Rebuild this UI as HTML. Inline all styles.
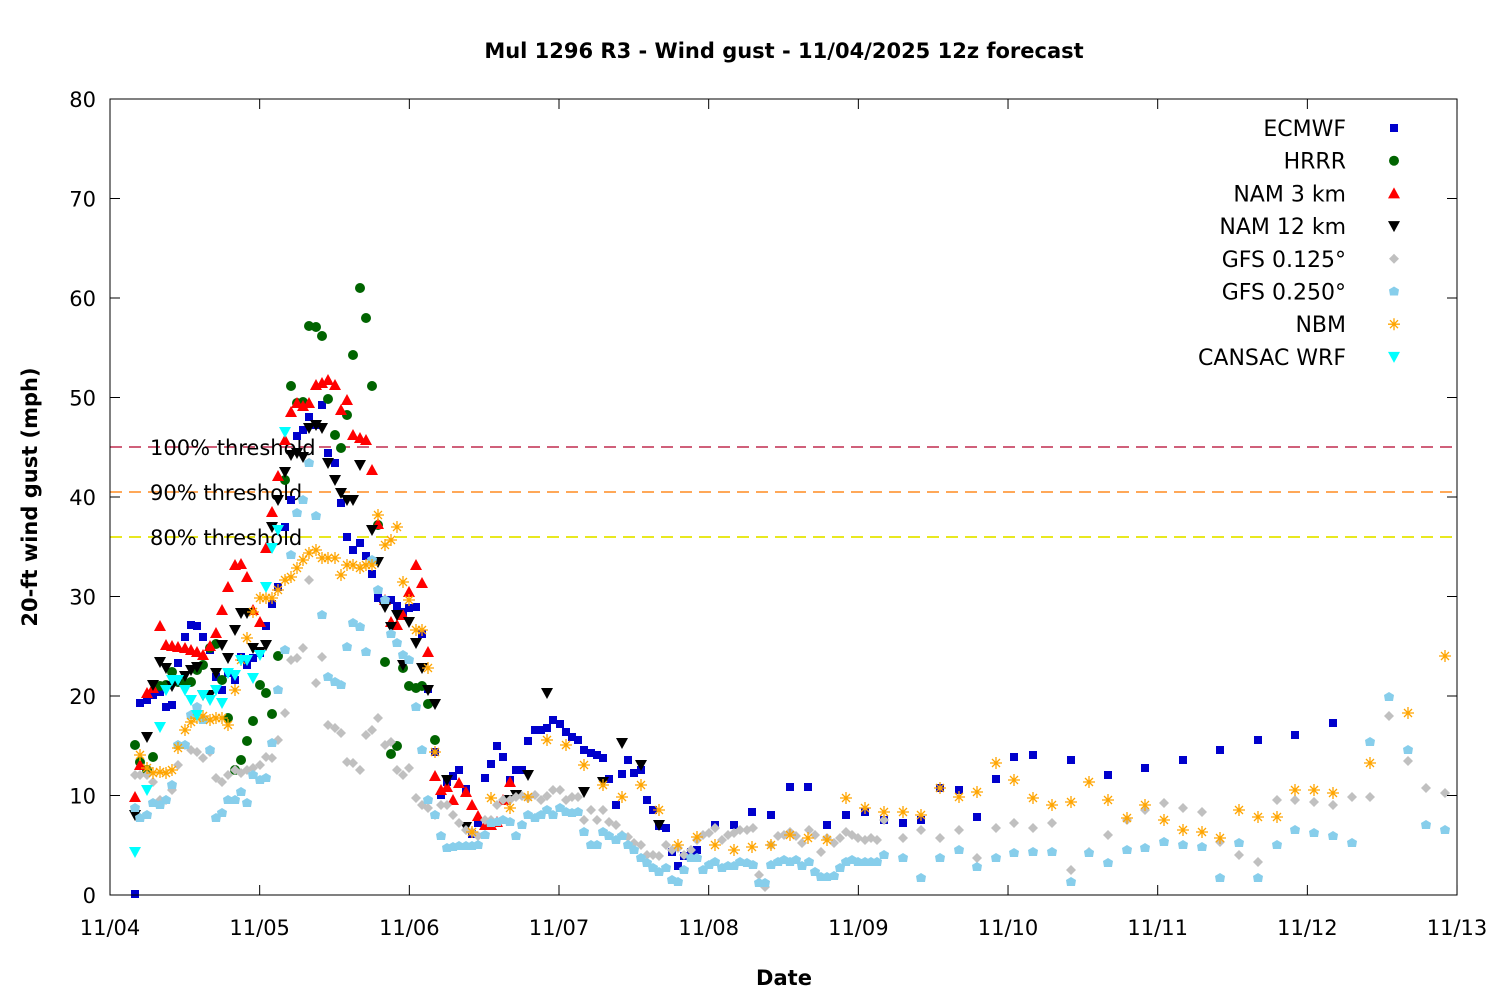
<!DOCTYPE html>
<html><head><meta charset="utf-8"><style>
body{margin:0;background:#fff;}
svg text{font-family:"DejaVu Sans","Liberation Sans",sans-serif;}
</style></head><body>
<svg id="s" width="1500" height="1000" xmlns="http://www.w3.org/2000/svg">
<rect width="1500" height="1000" fill="#fff"/>
<g id="grid"></g>
<line x1="110" y1="447" x2="1457" y2="447" stroke="#d0607a" stroke-width="2" stroke-dasharray="12,7"/>
<line x1="110" y1="492" x2="1457" y2="492" stroke="#ffa858" stroke-width="2" stroke-dasharray="12,7"/>
<line x1="110" y1="537" x2="1457" y2="537" stroke="#e8e820" stroke-width="2" stroke-dasharray="12,7"/>
<g font-size="21" fill="#000">
<text x="150" y="455">100% threshold</text>
<text x="150" y="500">90% threshold</text>
<text x="150" y="545">80% threshold</text>
</g>
<g id="pts"></g>
<rect x="110" y="99" width="1347" height="796" fill="none" stroke="#000" stroke-width="1"/>
<g id="ax" font-size="21"></g>
<text x="784" y="58" text-anchor="middle" font-size="21" font-weight="bold">Mul 1296 R3 - Wind gust - 11/04/2025 12z forecast</text>
<text x="784" y="985" text-anchor="middle" font-size="21" font-weight="bold">Date</text>
<text transform="translate(37,497) rotate(-90)" text-anchor="middle" font-size="21" font-weight="bold">20-ft wind gust (mph)</text>
<g id="leg" font-size="22"></g>
</svg>
<script>
const NS="http://www.w3.org/2000/svg";
function el(p,t,a,txt){const e=document.createElementNS(NS,t);for(const k in a)e.setAttribute(k,a[k]);if(txt!==undefined)e.textContent=txt;p.appendChild(e);return e;}
const ax=document.getElementById('ax');
for(let i=0;i<=8;i++){const y=895-i*99.5;
el(ax,'line',{x1:110,y1:y,x2:120,y2:y,stroke:'#000'});el(ax,'line',{x1:1447,y1:y,x2:1457,y2:y,stroke:'#000'});
el(ax,'text',{x:96,y:y+8,'text-anchor':'end'},String(i*10));}
const days=['11/04','11/05','11/06','11/07','11/08','11/09','11/10','11/11','11/12','11/13'];
for(let i=0;i<=9;i++){const x=110+i*149.67;
el(ax,'line',{x1:x,y1:895,x2:x,y2:885,stroke:'#000'});el(ax,'line',{x1:x,y1:99,x2:x,y2:109,stroke:'#000'});
el(ax,'text',{x:x,y:935,'text-anchor':'middle'},days[i]);}
function mk(g,type,x,y){
 if(type=='sq')el(g,'rect',{x:x-4,y:y-4,width:8,height:8,fill:'#0000cc'});
 else if(type=='ci')el(g,'circle',{cx:x,cy:y,r:5,fill:'#006400'});
 else if(type=='tu')el(g,'polygon',{points:`${x},${y-6} ${x-6},${y+5} ${x+6},${y+5}`,fill:'#ff0000'});
 else if(type=='td')el(g,'polygon',{points:`${x},${y+6} ${x-6},${y-5} ${x+6},${y-5}`,fill:'#000'});
 else if(type=='tc')el(g,'polygon',{points:`${x},${y+6} ${x-6},${y-5} ${x+6},${y-5}`,fill:'#00ffff'});
 else if(type=='di')el(g,'polygon',{points:`${x},${y-5} ${x+5},${y} ${x},${y+5} ${x-5},${y}`,fill:'#c0c0c0'});
 else if(type=='hx')el(g,'polygon',{points:`${x},${y-5} ${x+5},${y-2} ${x+4},${y+4} ${x-4},${y+4} ${x-5},${y-2}`,fill:'#87ceeb'});
 else if(type=='as'){const s='#ffa500';el(g,'path',{d:`M${x-6},${y}H${x+6}M${x},${y-6}V${y+6}M${x-4},${y-4}L${x+4},${y+4}M${x-4},${y+4}L${x+4},${y-4}`,stroke:s,'stroke-width':1.3});}
}
function P(s){const a=s.match(/-?\d+/g).map(Number);const r=[];for(let i=0;i<a.length;i+=2)r.push([a[i],a[i+1]]);return r;}
const D={
sq:P("(135,894),(140,703),(147,700),(153,695),(160,692),(166,707),(172,705),(178,663),(185,637),(191,625),(197,626),(203,637),(210,650),(216,677),(222,690),(228,673),(235,680),(241,657),(247,665),(253,658),(260,653),(266,626),(272,604),(278,587),(285,527),(291,500),(297,436),(303,430),(309,417),(316,425),(322,405),(328,453),(335,463),(341,503),(347,537),(353,550),(360,543),(366,556),(372,574),(378,598),(385,600),(391,600),(397,606),(403,612),(409,608),(416,607),(422,634),(428,689),(435,752),(441,795),(447,782),(453,776),(459,770),(466,789),(472,834),(478,823),(485,778),(491,764),(497,746),(503,757),(510,780),(516,770),(522,770),(528,741),(535,730),(541,730),(547,728),(553,720),(560,724),(566,732),(572,737),(578,740),(584,750),(591,753),(597,755),(603,758),(609,779),(616,805),(622,774),(628,760),(634,773),(641,770),(647,800),(653,810),(659,826),(666,828),(672,852),(678,866),(684,856),(691,852),(697,850),(715,825),(734,825),(752,812),(771,815),(790,787),(808,787),(827,825),(846,815),(865,812),(884,820),(903,823),(921,820),(940,788),(959,790),(977,817),(996,779),(1014,757),(1033,755),(1071,760),(1108,775),(1145,768),(1183,760),(1220,750),(1258,740),(1295,735),(1333,723)"),
ci:P("(135,745),(140,762),(147,770),(153,757),(160,686),(166,685),(172,672),(178,682),(185,683),(191,682),(197,670),(203,665),(210,648),(216,644),(222,680),(228,718),(235,770),(241,760),(247,741),(253,721),(260,685),(266,693),(272,714),(278,656),(285,480),(291,386),(297,403),(303,402),(309,326),(316,327),(322,336),(328,399),(335,435),(341,448),(347,415),(353,355),(360,288),(366,318),(372,386),(378,525),(385,662),(391,754),(397,746),(403,668),(409,686),(416,688),(422,686),(428,704),(435,740)"),
tu:P("(135,797),(140,765),(147,693),(153,688),(160,626),(166,645),(172,646),(178,647),(185,648),(191,650),(197,652),(203,655),(210,646),(216,633),(222,610),(228,587),(235,565),(241,564),(247,577),(253,610),(260,622),(266,548),(272,512),(278,476),(285,440),(291,412),(297,403),(303,406),(309,403),(316,385),(322,383),(328,380),(335,385),(341,410),(347,400),(353,435),(360,438),(366,440),(372,470),(378,524),(385,600),(391,622),(397,625),(403,615),(409,592),(416,565),(422,583),(428,652),(435,776),(441,790),(447,787),(453,800),(459,783),(466,792),(472,805),(478,816),(485,825),(491,825),(497,822),(503,800),(510,782)"),
td:P("(135,815),(147,737),(153,685),(160,662),(166,668),(172,686),(178,681),(185,676),(191,670),(197,667),(203,695),(210,695),(216,673),(222,645),(228,658),(235,630),(241,613),(247,613),(253,648),(260,652),(266,645),(272,527),(278,500),(285,472),(291,455),(297,453),(303,457),(309,428),(316,425),(322,428),(328,463),(335,480),(341,493),(347,500),(353,500),(360,465),(372,530),(378,562),(385,607),(391,627),(397,615),(403,665),(409,622),(416,643),(422,668),(428,690),(435,704),(447,780),(466,827),(510,800),(516,795),(528,775),(547,693),(584,792),(603,782),(622,743),(641,765),(659,825)"),
di:P("(135,775),(140,775),(147,775),(153,782),(160,800),(166,800),(172,790),(178,765),(185,745),(191,750),(197,752),(203,758),(210,752),(216,778),(222,782),(228,775),(235,770),(241,773),(247,770),(253,768),(260,765),(266,757),(272,758),(278,740),(285,713),(291,660),(297,658),(303,648),(309,580),(316,683),(322,657),(328,725),(335,728),(341,733),(347,762),(353,763),(360,770),(366,735),(372,730),(378,718),(385,745),(391,742),(397,770),(403,775),(409,768),(416,798),(422,805),(428,808),(435,815),(441,805),(447,805),(453,815),(459,823),(466,830),(472,832),(478,836),(485,820),(491,820),(497,805),(503,800),(510,800),(516,797),(522,796),(528,798),(535,795),(541,800),(547,796),(553,790),(560,790),(566,800),(572,797),(578,797),(584,820),(591,810),(597,820),(603,810),(609,822),(616,825),(622,835),(628,837),(634,843),(641,845),(647,855),(653,855),(659,856),(666,845),(672,850),(678,848),(684,855),(691,850),(697,840),(703,835),(709,833),(715,828),(722,840),(728,835),(734,833),(740,830),(747,830),(753,828),(759,875),(765,887),(771,845),(778,836),(784,835),(790,832),(796,836),(802,843),(809,830),(815,835),(821,852),(827,838),(834,843),(840,838),(846,832),(852,835),(858,838),(865,840),(871,838),(877,840),(884,820),(903,838),(921,830),(940,838),(959,830),(977,858),(996,828),(1014,823),(1033,828),(1052,823),(1071,870),(1089,852),(1108,835),(1127,820),(1145,810),(1164,803),(1183,808),(1202,812),(1220,842),(1239,855),(1258,862),(1277,800),(1295,800),(1314,802),(1333,805),(1352,797),(1370,797),(1389,716),(1408,761),(1426,788),(1445,793)"),
hx:P("(135,808),(140,818),(147,815),(153,803),(160,805),(166,800),(172,785),(178,745),(185,745),(191,715),(197,707),(203,720),(210,750),(216,818),(222,813),(228,800),(235,800),(241,792),(247,803),(253,775),(260,780),(266,778),(272,743),(278,690),(285,650),(291,555),(297,513),(303,500),(309,463),(316,516),(322,615),(328,677),(335,682),(341,685),(347,647),(353,623),(360,627),(366,652),(372,560),(378,590),(385,600),(391,634),(397,643),(403,655),(409,660),(416,707),(422,750),(428,800),(435,815),(441,836),(447,848),(453,847),(459,846),(466,846),(472,846),(478,845),(485,835),(491,823),(497,822),(503,820),(510,822),(516,836),(522,825),(528,815),(535,818),(541,815),(547,810),(553,815),(560,808),(566,812),(572,813),(578,812),(584,832),(591,845),(597,845),(603,832),(609,836),(616,840),(622,836),(628,845),(634,850),(641,858),(647,863),(653,868),(659,872),(666,868),(672,880),(678,882),(684,870),(691,858),(697,858),(703,870),(709,865),(715,862),(722,868),(728,866),(734,866),(740,862),(747,863),(753,865),(759,883),(765,883),(771,865),(778,862),(784,860),(790,862),(796,860),(802,866),(809,862),(815,872),(821,877),(827,877),(834,876),(840,868),(846,862),(852,860),(858,862),(865,862),(871,862),(877,862),(884,855),(903,858),(921,878),(940,858),(959,850),(977,867),(996,858),(1014,853),(1033,852),(1052,852),(1071,882),(1089,853),(1108,863),(1127,850),(1145,848),(1164,842),(1183,845),(1202,847),(1220,878),(1239,843),(1258,878),(1277,845),(1295,830),(1314,833),(1333,836),(1352,843),(1370,742),(1389,697),(1408,750),(1426,825),(1445,830)"),
as:P("(140,755),(147,768),(153,773),(160,772),(166,773),(172,770),(178,748),(185,730),(191,722),(197,718),(203,716),(210,720),(216,718),(222,718),(228,725),(235,690),(241,660),(247,638),(253,612),(260,598),(266,598),(272,598),(278,590),(285,580),(291,577),(297,568),(303,560),(309,553),(316,550),(322,558),(328,558),(335,558),(341,575),(347,565),(353,565),(360,568),(366,565),(372,565),(378,515),(385,545),(391,540),(397,527),(403,582),(409,600),(416,630),(422,630),(428,668),(435,752),(472,832),(491,798),(510,808),(528,797),(547,740),(566,745),(584,765),(603,785),(622,797),(641,785),(659,810),(678,845),(697,837),(715,845),(734,850),(752,847),(771,845),(790,835),(808,838),(827,840),(846,798),(865,808),(884,812),(903,812),(921,815),(940,788),(959,797),(977,792),(996,763),(1014,780),(1033,798),(1052,805),(1071,802),(1089,782),(1108,800),(1127,818),(1145,805),(1164,820),(1183,830),(1202,832),(1220,838),(1239,810),(1258,817),(1277,817),(1295,790),(1314,790),(1333,793),(1370,763),(1408,713),(1445,656)"),
tc:P("(135,852),(147,790),(160,727),(166,690),(172,680),(178,680),(185,690),(191,700),(197,715),(203,695),(210,700),(216,690),(222,703),(228,673),(235,675),(241,660),(247,660),(253,678),(260,655),(266,587),(272,548),(278,530),(285,432)")};
const g=document.getElementById('pts');
for(const t of ['sq','ci','tu','td','di','hx','as','tc'])for(const [x,y] of D[t])mk(g,t,x,y);
const L=document.getElementById('leg');
const names=[['ECMWF','sq'],['HRRR','ci'],['NAM 3 km','tu'],['NAM 12 km','td'],['GFS 0.125°','di'],['GFS 0.250°','hx'],['NBM','as'],['CANSAC WRF','tc']];
names.forEach((n,i)=>{const y=128+i*32.7;el(L,'text',{x:1346,y:y+8,'text-anchor':'end'},n[0]);mk(L,n[1],1394,y);});
</script>
</body></html>
